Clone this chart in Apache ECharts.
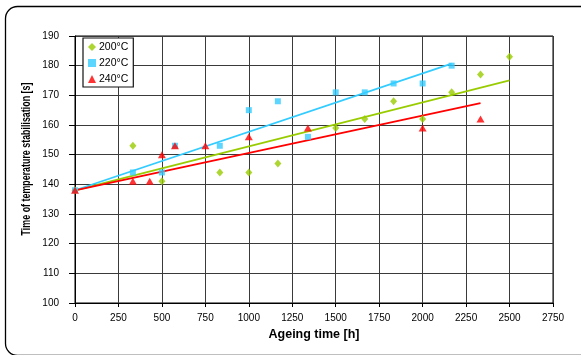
<!DOCTYPE html>
<html>
<head>
<meta charset="utf-8">
<style>
  html, body { margin: 0; padding: 0; background: #fff; }
  #chart { width: 581px; height: 355px; }
</style>
<script src="https://cdn.jsdelivr.net/npm/echarts@6/dist/echarts.min.js"></script>
</head>
<body>
<div id="chart"></div>
<script>
// Stabilisation time after thermal ageing, three ageing temperatures
const seriesNames = ['200°C', '220°C', '240°C'];

const ageing200 = [0, 333, 500, 833, 1000, 1167, 1500, 1667, 1833, 2000, 2167, 2333, 2500];
const stab200   = [138, 153, 141, 144, 144, 147, 159, 162, 168, 162, 171, 177, 183];

const ageing220 = [0, 333, 500, 575, 833, 1000, 1167, 1340, 1500, 1667, 1833, 2000, 2167];
const stab220   = [138, 144, 144, 153, 153, 165, 168, 156, 171, 171, 174, 174, 180];

const ageing240 = [0, 333, 430, 500, 575, 750, 1000, 1340, 2000, 2333];
const stab240   = [138, 141, 141, 150, 153, 153, 156, 159, 159, 162];

// Trend lines share a fixed intercept (initial stabilisation time)
const trendIntercept = 138;

const colors = ['#99CC00', '#33CCFF', '#FF0000'];
const symbols = ['diamond', 'rect', 'triangle'];
const symbolSizes = [[7, 8], 6, [8, 7]];

const xs = [ageing200, ageing220, ageing240];
const ys = [stab200, stab220, stab240];

function pairs(x, y) { return x.map((v, i) => [v, y[i]]); }

// least squares slope with the intercept held fixed
function trend(x, y, b) {
  let num = 0, den = 0;
  x.forEach((v, i) => { num += v * (y[i] - b); den += v * v; });
  const k = num / den;
  const x0 = Math.min(...x), x1 = Math.max(...x);
  return [[x0, b + k * x0], [x1, b + k * x1]];
}

const series = [];
seriesNames.forEach((name, i) => {
  series.push({
    name: 'trend ' + name,
    type: 'line',
    data: trend(xs[i], ys[i], trendIntercept),
    symbol: 'none',
    lineStyle: { color: colors[i], width: 1.8 },
    z: 2,
    silent: true
  });
});
seriesNames.forEach((name, i) => {
  series.push({
    name: name,
    type: 'scatter',
    data: pairs(xs[i], ys[i]),
    symbol: symbols[i],
    symbolSize: symbolSizes[i],
    itemStyle: { color: colors[i] },
    z: 3
  });
});

const chart = echarts.init(document.getElementById('chart'), null, { renderer: 'canvas' });
const axisFont = { fontFamily: 'Liberation Sans, Arial, sans-serif', fontSize: 10, color: '#000' };

chart.setOption({
  animation: false,
  backgroundColor: '#fff',
  textStyle: { fontFamily: 'Liberation Sans, Arial, sans-serif' },
  grid: { left: 75, top: 36, right: 28, bottom: 52, show: true, borderColor: '#000', borderWidth: 1, backgroundColor: '#fff' },
  legend: {
    data: seriesNames,
    orient: 'vertical',
    left: 83,
    top: 38,
    padding: [3, 5, 2, 5],
    itemGap: 4,
    itemWidth: 8,
    itemHeight: 8,
    borderColor: '#111',
    borderWidth: 1.2,
    backgroundColor: '#fff',
    textStyle: { fontSize: 10.5, color: '#000', lineHeight: 12, padding: [0, 0, 0, -2] }
  },
  xAxis: {
    type: 'value',
    min: 0, max: 2750, interval: 250,
    name: 'Ageing time [h]',
    nameLocation: 'middle',
    nameGap: 19,
    nameTextStyle: { fontSize: 12.5, fontWeight: 'bold', color: '#000' },
    axisLine: { lineStyle: { color: '#000', width: 1 } },
    axisTick: { show: true, length: 4, lineStyle: { color: '#000' } },
    axisLabel: Object.assign({ margin: 10, formatter: v => String(v) }, axisFont),
    splitLine: { lineStyle: { color: '#3a3a3a', width: 1 } }
  },
  yAxis: {
    type: 'value',
    min: 100, max: 190, interval: 10,
    axisLine: { show: true, lineStyle: { color: '#000', width: 1 } },
    axisTick: { show: true, length: 6, lineStyle: { color: '#000' } },
    axisLabel: Object.assign({ margin: 16, formatter: v => String(v) }, axisFont),
    splitLine: { lineStyle: { color: '#3a3a3a', width: 1 } }
  },
  graphic: [
    {
      type: 'rect',
      left: 3, top: 4,
      shape: { width: 620, height: 349, r: 12 },
      style: { fill: 'none', stroke: '#000', lineWidth: 1.3 },
      silent: true,
      z: 100
    },
    {
      type: 'text',
      x: 27, y: 159,
      rotation: Math.PI / 2,
      scaleX: 0.74,
      style: {
        text: 'Time of temperature stabilisation [s]',
        font: 'bold 12px "Liberation Sans", Arial, sans-serif',
        fill: '#000',
        textAlign: 'center',
        textVerticalAlign: 'middle',
        align: 'center',
        verticalAlign: 'middle'
      },
      silent: true
    }
  ],
  series: series
});
</script>
</body>
</html>
